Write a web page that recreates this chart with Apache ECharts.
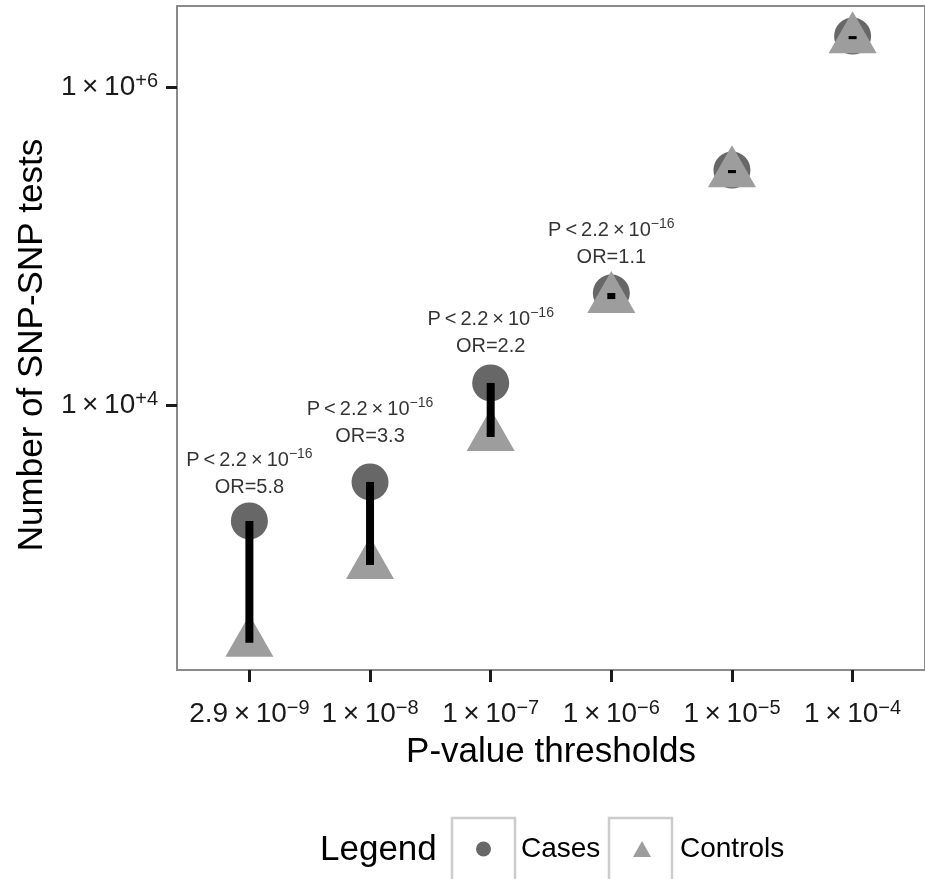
<!DOCTYPE html>
<html>
<head>
<meta charset="utf-8">
<script src="https://cdn.jsdelivr.net/npm/echarts@6/dist/echarts.min.js"></script>
<style>
  html, body { margin: 0; padding: 0; background: #fff; }
  #chart { width: 925px; height: 879px; }
</style>
</head>
<body>
<div id="chart"></div>
<script>
// ---- data ----
const thresholdMantissa = ['2.9', '1', '1', '1', '1', '1'];
const thresholdExponent = ['−9', '−8', '−7', '−6', '−5', '−4'];
const casesCount = [1883, 3308, 13850, 50850, 301000, 2090000];
const controlsCount = [323, 996, 6340, 46600, 288000, 2000000];
const orValues = ['5.8', '3.3', '2.2', '1.1'];
const pMantissa = '2.2';
const pExponent = '−16';
const annotationY = [3715, 7710, 28400, 103000];
const yTickValues = [1e4, 1e6];
const yTickExponent = ['+4', '+6'];

const FONT = 'Liberation Sans, Arial, Helvetica, sans-serif';
const CASE_COLOR = '#676767';
const CONTROL_COLOR = '#9d9d9d';
const TS = '\u2009';

const chart = echarts.init(document.getElementById('chart'), null, { renderer: 'canvas' });

const tickRich = {
  b: { fontSize: 28, lineHeight: 32, fontFamily: FONT, color: '#1a1a1a' },
  s: { fontSize: 20, lineHeight: 16, verticalAlign: 'top', fontFamily: FONT, color: '#1a1a1a' }
};

const xIdx = thresholdMantissa.map((_, i) => i);

const option = {
  animation: false,
  grid: {
    left: 177, top: 6, width: 752, height: 664,
    show: true, borderColor: '#8a8a8a', borderWidth: 2, backgroundColor: '#ffffff'
  },
  xAxis: {
    type: 'value', min: -0.6, max: 5.6,
    axisLine: { show: false, onZero: false },
    splitLine: { show: false },
    axisTick: { show: true, length: 12, lineStyle: { color: '#1a1a1a', width: 3 }, customValues: xIdx },
    axisLabel: {
      customValues: xIdx, margin: 28,
      formatter: v => {
        const i = Math.round(v);
        return '{b|' + thresholdMantissa[i] + TS + '×' + TS + '10}{s|' + thresholdExponent[i] + '}';
      },
      rich: tickRich
    },
    name: 'P-value thresholds', nameLocation: 'middle', nameGap: 65,
    nameTextStyle: { fontSize: 35, color: '#000', fontFamily: FONT }
  },
  yAxis: {
    type: 'log', logBase: 10, min: 218, max: 3230000,
    axisLine: { show: false, onZero: false },
    splitLine: { show: false },
    axisTick: { show: true, length: 11, lineStyle: { color: '#1a1a1a', width: 3 }, customValues: yTickValues },
    axisLabel: {
      customValues: yTickValues, margin: 19,
      formatter: v => {
        let best = 0, bd = Infinity;
        yTickValues.forEach((t, i) => { const d = Math.abs(Math.log10(t) - Math.log10(v)); if (d < bd) { bd = d; best = i; } });
        return '{b|1' + TS + '×' + TS + '10}{s|' + yTickExponent[best] + '}';
      },
      rich: tickRich
    },
    name: 'Number of SNP-SNP tests', nameLocation: 'middle', nameGap: 127,
    nameTextStyle: { fontSize: 35, color: '#000', fontFamily: FONT, padding: [0, 14, 0, 0] }
  },
  legend: [
    {
      data: ['Cases'], left: 476, top: 834, padding: 0, selectedMode: false,
      itemWidth: 15, itemHeight: 15,
      textStyle: { fontSize: 28, lineHeight: 30, color: '#000', fontFamily: FONT, padding: [0, 0, 0, 25] }
    },
    {
      data: ['Controls'], left: 633, top: 834, padding: 0, selectedMode: false,
      itemWidth: 18, itemHeight: 16,
      textStyle: { fontSize: 28, lineHeight: 30, color: '#000', fontFamily: FONT, padding: [0, 0, 0, 24] }
    }
  ],
  graphic: [
    { type: 'rect', shape: { x: 452, y: 818, width: 63, height: 63 }, style: { fill: 'none', stroke: '#cccccc', lineWidth: 2.5 }, silent: true },
    { type: 'rect', shape: { x: 609, y: 818, width: 63, height: 63 }, style: { fill: 'none', stroke: '#cccccc', lineWidth: 2.5 }, silent: true },
    { type: 'text', x: 320, y: 850, style: { text: 'Legend', fontSize: 35, fontFamily: FONT, fill: '#000', verticalAlign: 'middle' }, silent: true }
  ],
  series: [
    {
      name: 'Cases', type: 'scatter', symbol: 'circle', symbolSize: 37,
      itemStyle: { color: CASE_COLOR, opacity: 1 },
      emphasis: { disabled: true },
      data: casesCount.map((v, i) => [i, v]), z: 2
    },
    {
      name: 'Controls', type: 'scatter', symbol: 'triangle', symbolSize: [48, 42], symbolOffset: [0, -7],
      itemStyle: { color: CONTROL_COLOR, opacity: 1 },
      emphasis: { disabled: true },
      data: controlsCount.map((v, i) => [i, v]), z: 3
    },
    {
      name: 'range', type: 'custom', z: 4,
      encode: { x: 0, y: [1, 2] },
      data: casesCount.map((v, i) => [i, v, controlsCount[i]]),
      renderItem: (params, api) => {
        const x = api.value(0);
        const p1 = api.coord([x, api.value(1)]);
        const p2 = api.coord([x, api.value(2)]);
        const w = 8;
        return {
          type: 'rect',
          shape: { x: p1[0] - w / 2, y: Math.min(p1[1], p2[1]), width: w, height: Math.max(2, Math.abs(p2[1] - p1[1])) },
          style: { fill: '#000' }
        };
      }
    },
    {
      name: 'annotations', type: 'scatter', symbolSize: 1, z: 5,
      itemStyle: { color: 'rgba(0,0,0,0)' },
      emphasis: { disabled: true },
      data: orValues.map((v, i) => [i, annotationY[i]]),
      label: {
        show: true, position: 'inside',
        formatter: p => '{b|P' + TS + '<' + TS + pMantissa + TS + '×' + TS + '10}{s|' + pExponent + '}\n{b|OR=' + orValues[p.dataIndex] + '}',
        rich: {
          b: { fontSize: 20, lineHeight: 27, fontFamily: FONT, color: '#000', align: 'center' },
          s: { fontSize: 14, lineHeight: 12, verticalAlign: 'top', fontFamily: FONT, color: '#000' }
        }
      }
    }
  ]
};

chart.setOption(option);
</script>
</body>
</html>
